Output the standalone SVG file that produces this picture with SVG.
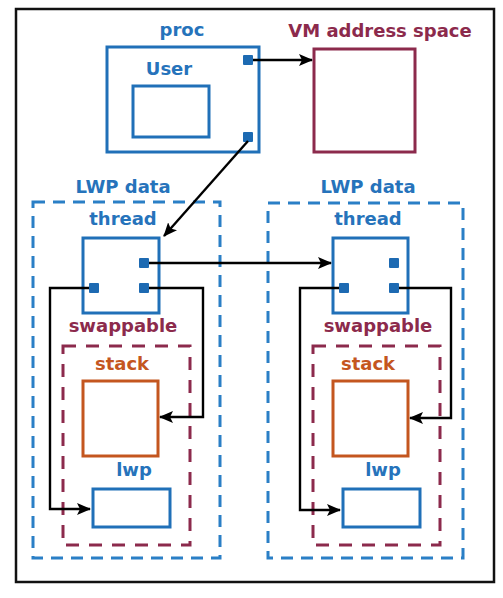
<svg xmlns="http://www.w3.org/2000/svg" width="503" height="598" viewBox="0 0 503 598">
<defs>
<style>
.lbl{font-family:"DejaVu Sans","Liberation Sans",sans-serif;font-weight:bold;font-size:18px;text-anchor:middle}
.blue{fill:#2673bb}
.mar{fill:#8c2a4c}
.org{fill:#c4561f}
.bbox{fill:none;stroke:#2070b8;stroke-width:3}
.mbox{fill:none;stroke:#8c2a4c;stroke-width:3}
.obox{fill:none;stroke:#c4561f;stroke-width:3}
.bdash{fill:none;stroke:#2a7fc6;stroke-width:3;stroke-dasharray:12 8}
.mdash{fill:none;stroke:#8c2a4c;stroke-width:3;stroke-dasharray:13 10}
.dot{fill:#1d6ab2}
.conn{fill:none;stroke:#000;stroke-width:2.4}
</style>
<marker id="ah" viewBox="0 0 14 12" refX="13" refY="6" markerWidth="14" markerHeight="12" markerUnits="userSpaceOnUse" orient="auto">
<path d="M0,0 L14,6 L0,12 L3,6 z" fill="#000"/>
</marker>
</defs>
<rect width="503" height="598" fill="#fff"/>
<rect id="frame" x="16" y="9" width="478" height="573" fill="none" stroke="#111" stroke-width="2.5"/>

<g id="proc">
<text class="lbl blue" x="182" y="36">proc</text>
<rect class="bbox" x="107" y="47" width="152" height="105"/>
<text class="lbl blue" x="169" y="75">User</text>
<rect class="bbox" x="133" y="86" width="76" height="51"/>
<rect class="dot" x="243" y="55" width="10" height="10" rx="1"/>
<rect class="dot" x="243" y="132" width="10" height="10" rx="1"/>
</g>

<g id="vm">
<text class="lbl mar" x="380" y="37">VM address space</text>
<rect class="mbox" x="314" y="49" width="101" height="103"/>
</g>

<g id="lwp-left">
<text class="lbl blue" x="123" y="193">LWP data</text>
<rect class="bdash" x="33" y="202" width="187" height="356"/>
<g id="thread-left">
<text class="lbl blue" x="123" y="225">thread</text>
<rect class="bbox" x="83" y="238" width="76" height="75"/>
<rect class="dot" x="139" y="258" width="10" height="10" rx="1"/>
<rect class="dot" x="139" y="283" width="10" height="10" rx="1"/>
<rect class="dot" x="89" y="283" width="10" height="10" rx="1"/>
</g>
<g id="swap-left">
<text class="lbl mar" x="123" y="332">swappable</text>
<rect class="mdash" x="63" y="346" width="127" height="199"/>
</g>
<g id="stack-left">
<text class="lbl org" x="122" y="370">stack</text>
<rect class="obox" x="83" y="381" width="75" height="75"/>
</g>
<g id="lwp-box-left">
<text class="lbl blue" x="134" y="476">lwp</text>
<rect class="bbox" x="93" y="489" width="77" height="38"/>
</g>
</g>

<g id="lwp-right">
<text class="lbl blue" x="368" y="193">LWP data</text>
<rect class="bdash" x="268" y="203" width="195" height="355"/>
<g id="thread-right">
<text class="lbl blue" x="368" y="225">thread</text>
<rect class="bbox" x="333" y="238" width="75" height="75"/>
<rect class="dot" x="389" y="258" width="10" height="10" rx="1"/>
<rect class="dot" x="389" y="283" width="10" height="10" rx="1"/>
<rect class="dot" x="339" y="283" width="10" height="10" rx="1"/>
</g>
<g id="swap-right">
<text class="lbl mar" x="378" y="332">swappable</text>
<rect class="mdash" x="313" y="346" width="127" height="199"/>
</g>
<g id="stack-right">
<text class="lbl org" x="368" y="370">stack</text>
<rect class="obox" x="333" y="381" width="75" height="75"/>
</g>
<g id="lwp-box-right">
<text class="lbl blue" x="383" y="476">lwp</text>
<rect class="bbox" x="343" y="489" width="77" height="38"/>
</g>
</g>

<g id="connectors">
<path class="conn" d="M253,60 L312,60" marker-end="url(#ah)"/>
<path class="conn" d="M248,141 L164,236" marker-end="url(#ah)"/>
<path class="conn" d="M149,263 L331,263" marker-end="url(#ah)"/>
<path class="conn" d="M89,288 L50,288 L50,509 L90,509" marker-end="url(#ah)"/>
<path class="conn" d="M149,288 L203,288 L203,417 L160,417" marker-end="url(#ah)"/>
<path class="conn" d="M339,288 L300,288 L300,510 L340,510" marker-end="url(#ah)"/>
<path class="conn" d="M399,288 L451,288 L451,418 L410,418" marker-end="url(#ah)"/>
</g>
</svg>
